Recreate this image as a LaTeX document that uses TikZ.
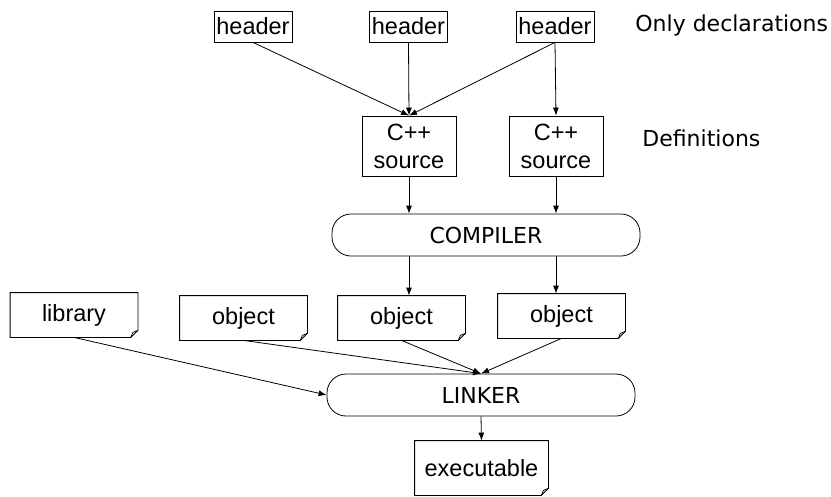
\documentclass[tikz,border=0pt]{standalone}
\usepackage{fontspec}
\setmainfont{Liberation Sans}
\newfontfamily\comicfont{DejaVu Sans}
\usetikzlibrary{shapes,arrows,arrows.meta}

\tikzset{
	boxfont/.style={font=\fontsize{23.5}{28}\selectfont},
	hdr/.style={draw, boxfont, inner sep=0pt, minimum width=78pt, minimum height=31pt},
	src/.style={draw, boxfont, align=center, inner sep=0pt, minimum width=94pt, minimum height=60pt},
	doc/.style={boxfont, inner sep=0pt, minimum width=127pt, minimum height=44pt},
	proc/.style={draw, rounded corners=19pt, inner sep=0pt, minimum width=308pt, minimum height=42pt, font=\comicfont\fontsize{22}{26}\selectfont},
	note/.style={anchor=west, inner sep=0pt, font=\comicfont\fontsize{22}{26}\selectfont}
}

\begin{document}
\begin{tikzpicture}[x=1pt, y=-1pt, line width=0.8pt, >={Latex[length=8pt,width=6pt]}]
		\useasboundingbox (0,0) rectangle (831,496);

		% headers and sources
		\node[hdr] (hdr1) at (253, 26.5) {header};
		\node[hdr] (hdr2) at (408.5, 26.5) {header};
		\node[hdr] (hdr3) at (555, 26.5) {header};
		\node[src] (src1) at (409, 146) {C++\\source};
		\node[src] (src2) at (556, 146) {C++\\source};

		\node[note] (decl) at (635, 25) {Only declarations};
		\node[note] (defs) at (642, 138) {Definitions};

		\node[proc] (comp) at (486, 235) {COMPILER};
		\node[proc] (link) at (481, 395) {LINKER};

		% object files
		\node[doc] (lib) at (74, 315) {library};
		\node[doc] (obja) at (243.5, 318) {object};
		\node[doc] (objb) at (401.5, 318) {object};
		\node[doc] (objc) at (561.5, 316) {object};
		\node[doc, minimum width=133pt, minimum height=54pt] (exe) at (481.5, 468) {executable};

		\foreach \n in {lib,obja,objb,objc,exe}{
			\draw (\n.north west) -- (\n.north east) -- ([yshift=7pt]\n.south east)
				-- ([xshift=-7pt]\n.south east) -- (\n.south west) -- cycle;
			\draw ([xshift=-7pt]\n.south east) -- ([xshift=-5pt,yshift=5pt]\n.south east)
				-- ([yshift=7pt]\n.south east);
		}

		% connections
		\draw[->] (hdr1.south) -- (src1.north);
		\draw[->] (hdr2.south) -- (src1.north);
		\draw[->] (hdr3.south) -- (src1.north);
		\draw[->] (hdr3.south) -- (src2.north);

		\draw[->] (src1.south) -- (src1.south |- comp.north);
		\draw[->] (src2.south) -- (src2.south |- comp.north);
		\draw[->] (comp.south -| src1) -- (objb.north -| src1);
		\draw[->] (comp.south -| src2) -- (objc.north -| src2);

		\draw[->] (lib.south) -- (link.west);
		\draw[->] (obja.south) -- (link.north);
		\draw[->] (objb.south) -- (link.north);
		\draw[->] (objc.south) -- (link.north);
		\draw[->] (link.south) -- (exe.north);
	\end{tikzpicture}
\end{document}
